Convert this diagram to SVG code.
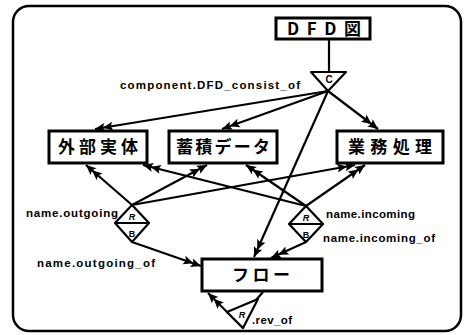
<svg xmlns="http://www.w3.org/2000/svg" width="465" height="335" viewBox="0 0 465 335">
<style>
.box{fill:#fff;stroke:#000;stroke-width:3}
.jp{font-family:"Noto Sans CJK JP","Liberation Sans",sans-serif;font-weight:700;font-size:17px;fill:#000}
.lbl{font-family:"Liberation Sans",Arial,sans-serif;font-weight:700;font-size:11.5px;fill:#000}
.sym{font-family:"Liberation Sans",Arial,sans-serif;font-weight:700;fill:#000;text-anchor:middle}
.ln{fill:none;stroke:#000;stroke-width:2.2}
.shape{fill:#fff;stroke:#000;stroke-width:2.2;stroke-linejoin:round}
</style>
<defs>
<marker id="dbl" viewBox="-19 -5 20 10" refX="0" refY="0" markerWidth="20" markerHeight="10" markerUnits="userSpaceOnUse" orient="auto">
<path d="M0,0 L-10,-4.5 L-8,0 L-10,4.5 Z M-8,0 L-18,-4.5 L-16,0 L-18,4.5 Z" fill="#000"/>
</marker>
</defs>
<rect x="13" y="6" width="448" height="325" rx="16" fill="#fff" stroke="#000" stroke-width="2.5"/>

<g id="connectors">
<line class="ln" x1="329" y1="39" x2="329" y2="72"/>
<line class="ln" x1="328" y1="91" x2="95" y2="129" marker-end="url(#dbl)"/>
<line class="ln" x1="328" y1="91" x2="222" y2="129" marker-end="url(#dbl)"/>
<line class="ln" x1="328" y1="91" x2="378" y2="129" marker-end="url(#dbl)"/>
<line class="ln" x1="328" y1="91" x2="254" y2="257" marker-end="url(#dbl)"/>
<line class="ln" x1="132" y1="205" x2="86" y2="165" marker-end="url(#dbl)"/>
<line class="ln" x1="132" y1="205" x2="207" y2="165" marker-end="url(#dbl)"/>
<line class="ln" x1="132" y1="205" x2="355" y2="165" marker-end="url(#dbl)"/>
<line class="ln" x1="306" y1="206" x2="143" y2="165" marker-end="url(#dbl)"/>
<line class="ln" x1="306" y1="206" x2="246" y2="165" marker-end="url(#dbl)"/>
<line class="ln" x1="306" y1="206" x2="365" y2="165" marker-end="url(#dbl)"/>
<line class="ln" x1="132" y1="242" x2="201" y2="266" marker-end="url(#dbl)"/>
<line class="ln" x1="306" y1="242" x2="271" y2="258" marker-end="url(#dbl)"/>
<line class="ln" x1="263" y1="292" x2="256" y2="300"/>
<line class="ln" x1="243" y1="328" x2="208" y2="293" marker-end="url(#dbl)"/>
</g>

<g id="rel-consist">
<polygon class="shape" points="311,72 346,72 328,91"/>
<text class="sym" x="329" y="83" font-size="10">C</text>
</g>

<g id="rel-outgoing">
<polygon class="shape" points="132,205 149,223 132,242 115,223"/>
<line class="ln" x1="115" y1="223" x2="149" y2="223"/>
<text class="sym" x="132" y="220" font-size="9" font-style="italic">R</text>
<text class="sym" x="132" y="237" font-size="9">B</text>
</g>

<g id="rel-incoming">
<polygon class="shape" points="306,206 323,224 306,242 289,224"/>
<line class="ln" x1="289" y1="224" x2="323" y2="224"/>
<text class="sym" x="306" y="221" font-size="9" font-style="italic">R</text>
<text class="sym" x="306" y="238" font-size="9">B</text>
</g>

<g id="rel-rev">
<polygon class="shape" points="227,312 258,299 243,328"/>
<text class="sym" x="242" y="318" font-size="9" font-style="italic">R</text>
</g>

<g id="dfd">
<rect class="box" x="276" y="18" width="94" height="21"/>
<text class="jp" x="287" y="35" textLength="74" lengthAdjust="spacing">DFD図</text>
</g>

<g id="gaibu">
<rect class="box" x="49" y="131" width="98" height="32"/>
<text class="jp" x="58" y="153" textLength="80" lengthAdjust="spacing">外部実体</text>
</g>

<g id="chikuseki">
<rect class="box" x="169" y="131" width="108" height="32"/>
<text class="jp" x="176" y="153" textLength="94" lengthAdjust="spacing">蓄積データ</text>
</g>

<g id="gyomu">
<rect class="box" x="337" y="131" width="106" height="32"/>
<text class="jp" x="348" y="153" textLength="84" lengthAdjust="spacing">業務処理</text>
</g>

<g id="flow">
<rect class="box" x="202" y="259" width="120" height="32"/>
<text class="jp" x="232" y="281" textLength="58" lengthAdjust="spacing">フロー</text>
</g>

<g id="labels">
<text class="lbl" x="120" y="89" textLength="180" lengthAdjust="spacing">component.DFD_consist_of</text>
<text class="lbl" x="26" y="217" textLength="92" lengthAdjust="spacing">name.outgoing</text>
<text class="lbl" x="326" y="218" textLength="89" lengthAdjust="spacing">name.incoming</text>
<text class="lbl" x="323" y="242" textLength="112" lengthAdjust="spacing">name.incoming_of</text>
<text class="lbl" x="37" y="267" textLength="118" lengthAdjust="spacing">name.outgoing_of</text>
<text class="lbl" x="252" y="324" textLength="40" lengthAdjust="spacing">.rev_of</text>
</g>
</svg>
